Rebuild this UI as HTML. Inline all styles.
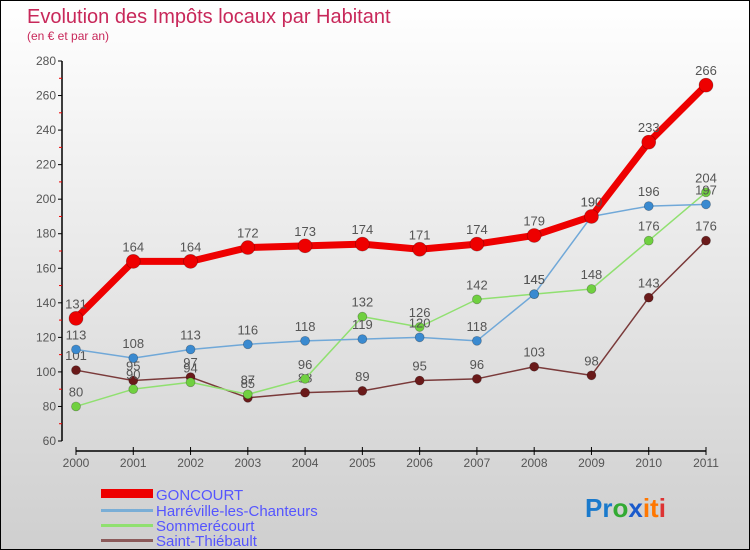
<!DOCTYPE html>
<html><head><meta charset="utf-8"><style>
body{margin:0}
#c{width:750px;height:550px;position:relative;box-sizing:border-box;border:1px solid #000;background:linear-gradient(#fff,#cfcfcf);font-family:"Liberation Sans",sans-serif;overflow:hidden}
text{font-family:"Liberation Sans",sans-serif}
</style></head><body>
<div id="c">
<svg id="s" width="750" height="550" style="position:absolute;left:0;top:0">
<text x="26" y="22" font-size="20" fill="#c8285a">Evolution des Impôts locaux par Habitant</text>
<text x="26" y="39" font-size="12" fill="#c8285a">(en € et par an)</text>
<g id="ax"></g><g id="ser"></g>
<g>
<rect x="100" y="488" width="52" height="9" fill="#e00"/>
<text x="155" y="499" font-size="15" fill="#5555ff">GONCOURT</text>
<rect x="100" y="508" width="52" height="3" fill="#7aaed6"/>
<text x="155" y="515" font-size="15" fill="#5555ff">Harréville-les-Chanteurs</text>
<rect x="100" y="523" width="52" height="3" fill="#90e070"/>
<text x="155" y="530" font-size="15" fill="#5555ff">Sommerécourt</text>
<rect x="100" y="538" width="52" height="3" fill="#8b5a5a"/>
<text x="155" y="545" font-size="15" fill="#5555ff">Saint-Thiébault</text>
</g>
<g font-size="26" font-weight="bold">
<text x="584" y="516"><tspan fill="#1a7acc">Pr</tspan><tspan fill="#33aa33">o</tspan><tspan fill="#1a5acc">x</tspan><tspan fill="#ff7700">it</tspan><tspan fill="#dd3333">i</tspan></text>
</g>
</svg>
</div>
<script>
const years=[2000,2001,2002,2003,2004,2005,2006,2007,2008,2009,2010,2011];
const yTicks=[60,80,100,120,140,160,180,200,220,240,260,280];
const goncourt=[131,164,164,172,173,174,171,174,179,190,233,266];
const harreville=[113,108,113,116,118,119,120,118,145,190,196,197];
const sommerecourt=[80,90,94,87,96,132,126,142,145,148,176,204];
const saintThiebault=[101,95,97,85,88,89,95,96,103,98,143,176];
const NS="http://www.w3.org/2000/svg";
const X=i=>75+i*(630/11);
const Y=v=>440-(v-60)*(380/220);
function mk(t,a,p){const e=document.createElementNS(NS,t);for(const k in a)e.setAttribute(k,a[k]);p.appendChild(e);return e;}
const ax=document.getElementById('ax');
let l=mk('line',{x1:61,y1:Y(280),x2:61,y2:Y(60),stroke:'#000','stroke-width':1.5},ax);


l=mk('line',{x1:X(0),y1:450,x2:X(11),y2:450,stroke:'#000','stroke-width':1.5},ax);


yTicks.forEach((v,i)=>{
 mk('line',{x1:57,x2:61,y1:Y(v),y2:Y(v),stroke:'#000'},ax);
 if(i<yTicks.length-1)mk('line',{x1:58,x2:61,y1:Y(v+10),y2:Y(v+10),stroke:'#e00'},ax);
 const t=mk('text',{x:55,y:Y(v)+4,'text-anchor':'end','font-size':12,fill:'#555'},ax);
 t.textContent=v;
 
 
});
years.forEach((y,i)=>{
 mk('line',{x1:X(i),x2:X(i),y1:446,y2:454,stroke:'#000'},ax);
 const t=mk('text',{x:X(i),y:466,'text-anchor':'middle','font-size':12,fill:'#555'},ax);
 t.textContent=y;
 
 
});
const ser=document.getElementById('ser');
const defs=[[saintThiebault,'#7a3a3a','#6a1a1a',1.5,4.5,'saint-thiebault'],[sommerecourt,'#90e070','#70d040',1.5,4.5,'sommerecourt'],[harreville,'#70a8d8','#3a8ad0',1.5,4.5,'harreville'],[goncourt,'#ee0000','#ee0000',7,7,'goncourt']];
defs.forEach(([d,c,mc,w,r,n])=>{
 const g=mk('g',{},ser);
 
 
 const p=mk('polyline',{points:d.map((v,i)=>X(i)+','+Y(v)).join(' '),fill:'none',stroke:c,'stroke-width':w,'stroke-linejoin':'round'},g);
 
 
 d.forEach((v,i)=>{
  const m=mk('circle',{cx:X(i),cy:Y(v),r:r,fill:mc,stroke:'rgba(0,0,0,0.3)','stroke-width':0.7},g);
  
  
  const t=mk('text',{x:X(i),y:Y(v)-10,'text-anchor':'middle','font-size':13,fill:'#555'},g);
  t.textContent=v;
  
  
 });
});
</script>
</body></html>
